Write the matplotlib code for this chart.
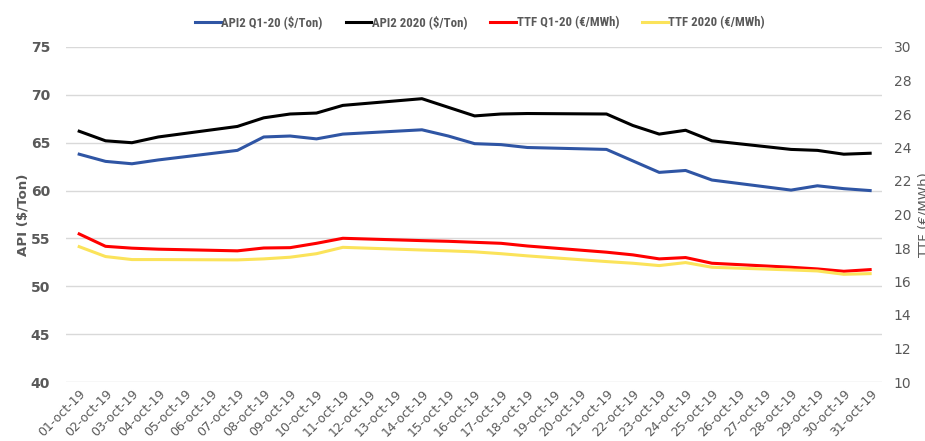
import numpy as np
import matplotlib
matplotlib.use('Agg')
import matplotlib.pyplot as plt

plt.rcParams['font.family'] = ['DejaVu Sans']

# business days in october 2019 (weekends are bridged by straight lines)
days = [1, 2, 3, 4, 7, 8, 9, 10, 11, 14, 15, 16, 17, 18, 21, 22, 23, 24, 25, 28, 29, 30, 31]
dayLabels = [f'{d:02d}-oct-19' for d in range(1, 32)]

api2Q1 = [63.8, 63.05, 62.8, 63.2, 64.2, 65.6, 65.7, 65.4, 65.9, 66.35, 65.7, 64.9, 64.8, 64.5,
          64.3, 63.1, 61.9, 62.1, 61.1, 60.05, 60.5, 60.2, 60.0]
api2Cal = [66.2, 65.2, 65.0, 65.6, 66.7, 67.6, 68.0, 68.1, 68.9, 69.6, 68.7, 67.8, 68.0, 68.05,
           68.0, 66.8, 65.9, 66.3, 65.2, 64.3, 64.2, 63.8, 63.9]
ttfQ1 = [18.84, 18.1, 17.99, 17.93, 17.83, 18.0, 18.02, 18.28, 18.58, 18.44, 18.4, 18.34, 18.28, 18.12,
         17.75, 17.59, 17.35, 17.43, 17.09, 16.85, 16.75, 16.61, 16.71]
ttfCal = [18.08, 17.49, 17.31, 17.31, 17.29, 17.35, 17.45, 17.66, 18.04, 17.88, 17.83, 17.77, 17.66, 17.53,
          17.19, 17.09, 16.95, 17.13, 16.85, 16.69, 16.63, 16.43, 16.47]

gray = '#595959'
narrow = ['Liberation Sans Narrow', 'DejaVu Sans Condensed', 'Roboto Condensed', 'DejaVu Sans']

fig = plt.figure(figsize=(9.25, 4.41), dpi=100)
fig.patch.set_facecolor('w')
ax = fig.add_axes([66/925, 1-382/441, (882-66)/925, (382-47)/441])
ax2 = ax.twinx()

l1, = ax.plot(days, api2Q1, color='#2F55A4', lw=2.2, label='API2 Q1-20 ($/Ton)')
l2, = ax.plot(days, api2Cal, color='black', lw=2.2, label='API2 2020 ($/Ton)')
l3, = ax2.plot(days, ttfQ1, color='#FF0000', lw=2.2, label='TTF Q1-20 (€/MWh)')
l4, = ax2.plot(days, ttfCal, color='#FBE35A', lw=2.2, label='TTF 2020 (€/MWh)')

ax.set_xlim(0.5, 31.45)
ax.set_ylim(40, 75)
ax2.set_ylim(10, 30)
ax.set_yticks(np.arange(40, 76, 5))
ax2.set_yticks(np.arange(10, 31, 2))
ax.grid(axis='y', color='#D9D9D9', lw=1)
ax.set_axisbelow(True)

ax.set_xticks(range(1, 32))
ax.set_xticklabels(dayLabels, rotation=45, ha='right', rotation_mode='anchor',
                   fontsize=9, color=gray)
for lbl in ax.get_yticklabels():
    lbl.set_fontweight('bold')
ax.tick_params(axis='y', labelsize=10, colors=gray, length=0, pad=11.5)
ax.tick_params(axis='x', length=0, pad=4)
ax2.tick_params(axis='y', labelsize=10, colors=gray, length=0, pad=8.5)

ax.set_ylabel('API ($/Ton)', fontsize=9.6, fontweight='bold', color=gray, labelpad=1)
ax2.set_ylabel('TTF (€/MWh)', fontsize=9.6, color=gray, labelpad=4)

for a in (ax, ax2):
    for s in a.spines.values():
        s.set_visible(False)

fig.legend(handles=[l1, l2, l3, l4], loc='center', bbox_to_anchor=(0.519, 0.95), ncol=4,
           frameon=False, prop={'family': narrow, 'size': 9.2, 'weight': 'bold'},
           handlelength=2.0, handletextpad=0.05, columnspacing=1.8, labelcolor=gray)

fig.savefig('out.png', dpi=100)
